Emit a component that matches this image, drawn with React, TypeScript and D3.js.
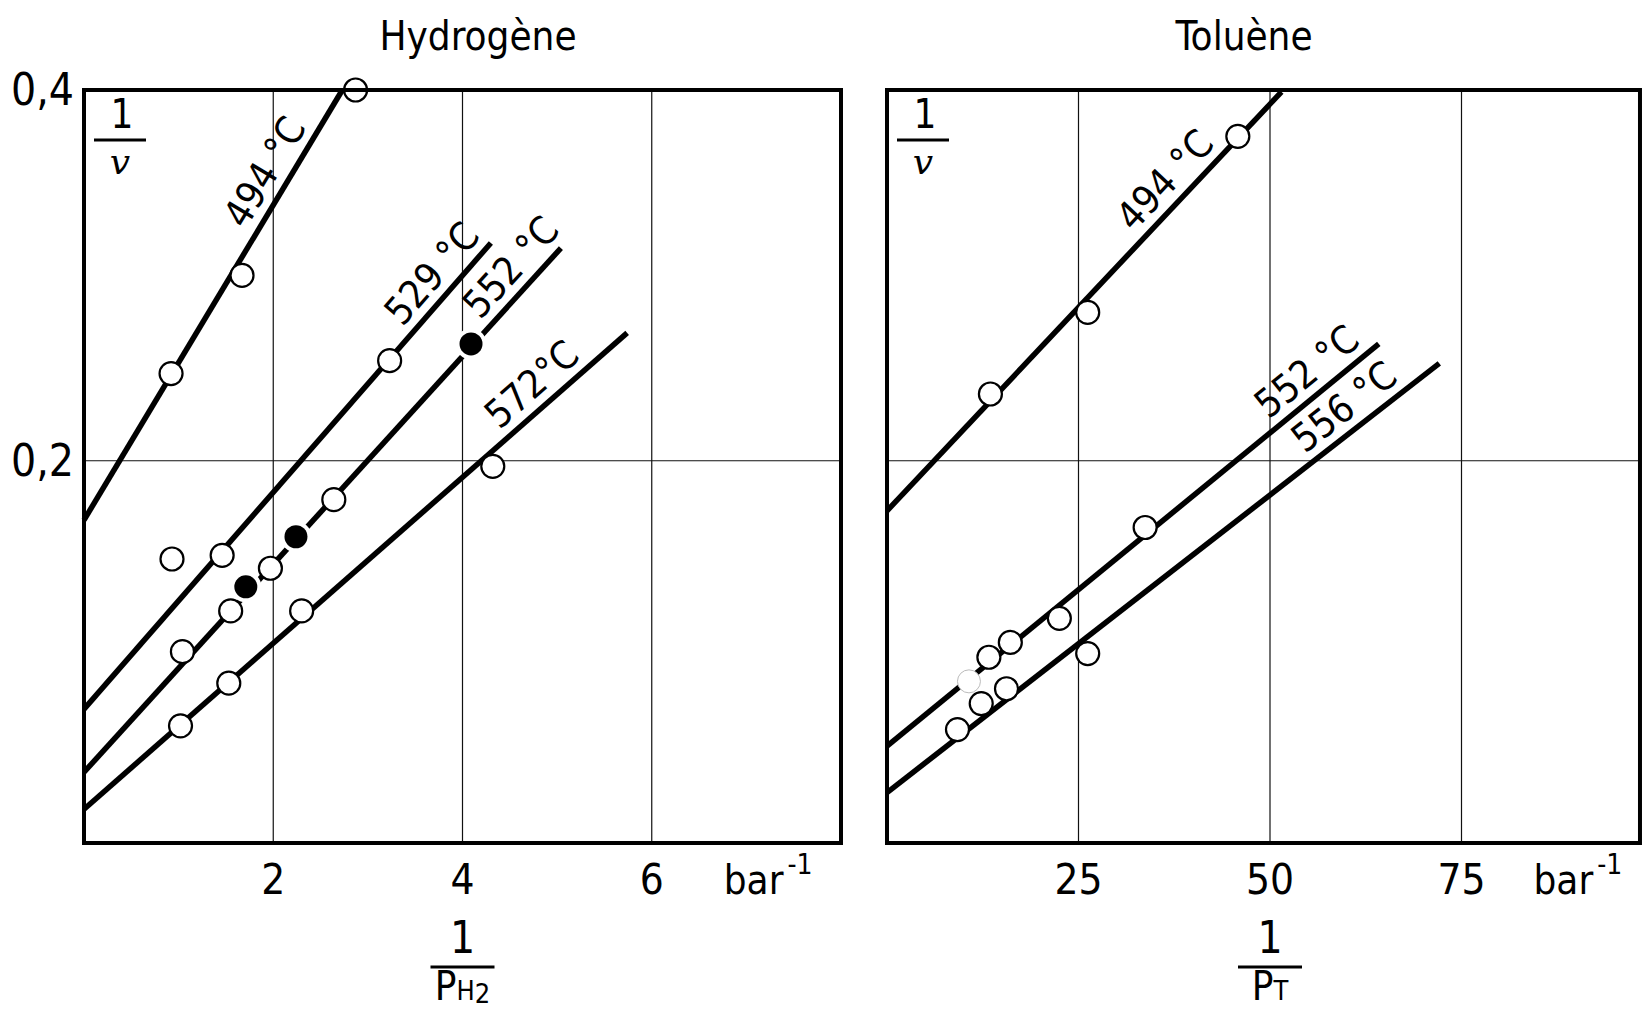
import React from 'react';
import * as d3 from 'd3';

const W = 1642;
const H = 1014;

// ---------- Hydrogène panel data ----------
const h2Temps = ['494 °C', '529 °C', '552 °C', '572°C'];
const h2Intercepts = [0.168, 0.066, 0.032, 0.012];
const h2EndX = [2.73, 4.30, 5.04, 5.74];
const h2EndY = [0.4, 0.3175, 0.3147, 0.269];
const h2LabelAt = [2.13, 3.87, 4.70, 4.90];
const h2OpenPoints: [number, number][] = [
  [0.92, 0.247], [1.67, 0.300], [2.87, 0.400],
  [1.46, 0.149], [3.23, 0.254], [0.93, 0.147],
  [1.04, 0.097], [1.55, 0.119], [1.97, 0.142], [2.64, 0.179],
  [1.02, 0.057], [1.53, 0.080], [2.30, 0.119], [4.32, 0.197],
];
const h2FilledPoints: [number, number][] = [[1.71, 0.132], [2.24, 0.159], [4.09, 0.263]];
const h2XTicks = [2, 4, 6];

// ---------- Toluène panel data ----------
const tTemps = ['494 °C', '552 °C', '556 °C'];
const tIntercepts = [0.173, 0.046, 0.021];
const tEndX = [51.5, 64.2, 72.1];
const tEndY = [0.399, 0.263, 0.2525];
const tLabelAt = [38.6, 56.8, 61.6];
const tOpenPoints: [number, number][] = [
  [13.5, 0.236], [26.2, 0.280], [45.8, 0.375],
  [13.3, 0.094], [16.1, 0.102], [22.5, 0.115], [33.7, 0.164],
  [9.2, 0.055], [12.3, 0.069], [15.6, 0.077], [26.2, 0.096],
];
const tFaintPoints: [number, number][] = [[10.7, 0.081]];
const tXTicks = [25, 50, 75];

const yTicks = [0.2, 0.4];
const yTickLabels = ['0,2', '0,4'];

const FONT = "'Liberation Sans Narrow', 'DejaVu Sans Condensed', 'Liberation Sans', sans-serif";

const yScale = d3.scaleLinear().domain([0, 0.4]).range([831.5, 90]);
const yMin = -0.0062;
const xH = d3.scaleLinear().domain([0, 8]).range([84, 841]);
const xT = d3.scaleLinear().domain([0, 100]).range([887, 1653]);
const tRight = 98.3;

const R = 11.5;

type PanelProps = {
  x: d3.ScaleLinear<number, number>;
  xMax: number;
  ticks: number[];
  temps: string[];
  intercepts: number[];
  endX: number[];
  endY: number[];
  labelAt: number[];
  open: [number, number][];
  filled: [number, number][];
  faint: [number, number][];
  sub: string;
  showY: boolean;
};

function Panel(p: PanelProps) {
  const { x } = p;
  const y = yScale;
  const x0 = x(0);
  const x1 = x(p.xMax);
  const yTop = y(0.4);
  const yBot = y(yMin);
  const line = d3.line<[number, number]>().x((d) => x(d[0])).y((d) => y(d[1]));
  const midX = x(p.ticks[1]);
  return (
    <g>
      {/* grid */}
      {p.ticks.map((t) => (
        <line key={'gx' + t} x1={x(t)} x2={x(t)} y1={yTop} y2={yBot} stroke="#111" strokeWidth={1.2} />
      ))}
      <line x1={x0} x2={x1} y1={y(0.2)} y2={y(0.2)} stroke="#111" strokeWidth={1.2} />
      {/* lines */}
      {p.temps.map((t, i) => (
        <path
          key={'l' + i}
          d={line([[0, p.intercepts[i]], [p.endX[i], p.endY[i]]]) || ''}
          stroke="#000"
          strokeWidth={5.5}
          fill="none"
        />
      ))}
      {/* labels */}
      {p.temps.map((t, i) => {
        const ax = x(0), ay = y(p.intercepts[i]);
        const bx = x(p.endX[i]), by = y(p.endY[i]);
        const ang = (Math.atan2(by - ay, bx - ax) * 180) / Math.PI;
        const lx = p.labelAt[i];
        const ly = p.intercepts[i] + ((p.endY[i] - p.intercepts[i]) * lx) / p.endX[i];
        return (
          <text
            key={'t' + i}
            transform={`translate(${x(lx)},${y(ly)}) rotate(${ang})`}
            dy={-11}
            textAnchor="middle"
            fontFamily={FONT}
            fontSize={39}
          >
            {t}
          </text>
        );
      })}
      {/* points */}
      {p.open.map((d, i) => (
        <circle key={'o' + i} cx={x(d[0])} cy={y(d[1])} r={R} fill="#fff" stroke="#000" strokeWidth={2.2} />
      ))}
      {p.faint.map((d, i) => (
        <circle key={'f' + i} cx={x(d[0])} cy={y(d[1])} r={R} fill="#fff" stroke="#bbb" strokeWidth={1} />
      ))}
      {p.filled.map((d, i) => (
        <g key={'b' + i}>
          <circle cx={x(d[0])} cy={y(d[1])} r={R + 4} fill="#fff" />
          <circle cx={x(d[0])} cy={y(d[1])} r={R} fill="#000" />
        </g>
      ))}
      {/* frame */}
      <rect x={x0} y={yTop} width={x1 - x0} height={yBot - yTop} fill="none" stroke="#000" strokeWidth={4} />
      {/* 1/v */}
      <text x={x0 + 38} y={128} textAnchor="middle" fontFamily={FONT} fontSize={40}>1</text>
      <line x1={x0 + 10} x2={x0 + 62} y1={140} y2={140} stroke="#000" strokeWidth={3} />
      <text x={x0 + 36} y={174} textAnchor="middle" fontFamily="'DejaVu Serif', serif" fontStyle="italic" fontSize={36}>v</text>
      {/* x ticks */}
      {p.ticks.map((t) => (
        <text key={'xt' + t} x={x(t)} y={894} textAnchor="middle" fontFamily={FONT} fontSize={42}>
          {t}
        </text>
      ))}
      <text x={x(p.ticks[2]) + 72} y={894} fontFamily={FONT} fontSize={40}>
        bar
        <tspan fontSize={28} dy={-20} dx={4}>-1</tspan>
      </text>
      {/* fraction below */}
      <text x={midX} y={953} textAnchor="middle" fontFamily={FONT} fontSize={44}>1</text>
      <line x1={midX - 32} x2={midX + 32} y1={967} y2={967} stroke="#000" strokeWidth={3} />
      <text x={midX} y={1000} textAnchor="middle" fontFamily={FONT} fontSize={40}>
        P<tspan fontSize={27}>{p.sub}</tspan>
        {p.sub === 'H' ? <tspan fontSize={27} dy={3}>2</tspan> : null}
      </text>
      {/* y ticks */}
      {p.showY &&
        yTicks.map((t, i) => (
          <text key={'yt' + t} x={x0 - 10} y={y(t) + 15} textAnchor="end" fontFamily={FONT} fontSize={44}>
            {yTickLabels[i]}
          </text>
        ))}
    </g>
  );
}

export default function App() {
  return (
    <svg
      width={W}
      height={H}
      viewBox={`0 0 ${W} ${H}`}
      style={{ position: 'absolute', left: 0, top: 0, background: '#fff' }}
    >
      <rect x={0} y={0} width={W} height={H} fill="#fff" />
      <text x={478} y={50} textAnchor="middle" fontFamily={FONT} fontSize={40}>Hydrogène</text>
      <text x={1244} y={50} textAnchor="middle" fontFamily={FONT} fontSize={40}>Toluène</text>
      <Panel
        x={xH}
        xMax={8}
        ticks={h2XTicks}
        temps={h2Temps}
        intercepts={h2Intercepts}
        endX={h2EndX}
        endY={h2EndY}
        labelAt={h2LabelAt}
        open={h2OpenPoints}
        filled={h2FilledPoints}
        faint={[]}
        sub="H"
        showY={true}
      />
      <Panel
        x={xT}
        xMax={tRight}
        ticks={tXTicks}
        temps={tTemps}
        intercepts={tIntercepts}
        endX={tEndX}
        endY={tEndY}
        labelAt={tLabelAt}
        open={tOpenPoints}
        filled={[]}
        faint={tFaintPoints}
        sub="T"
        showY={false}
      />
    </svg>
  );
}
